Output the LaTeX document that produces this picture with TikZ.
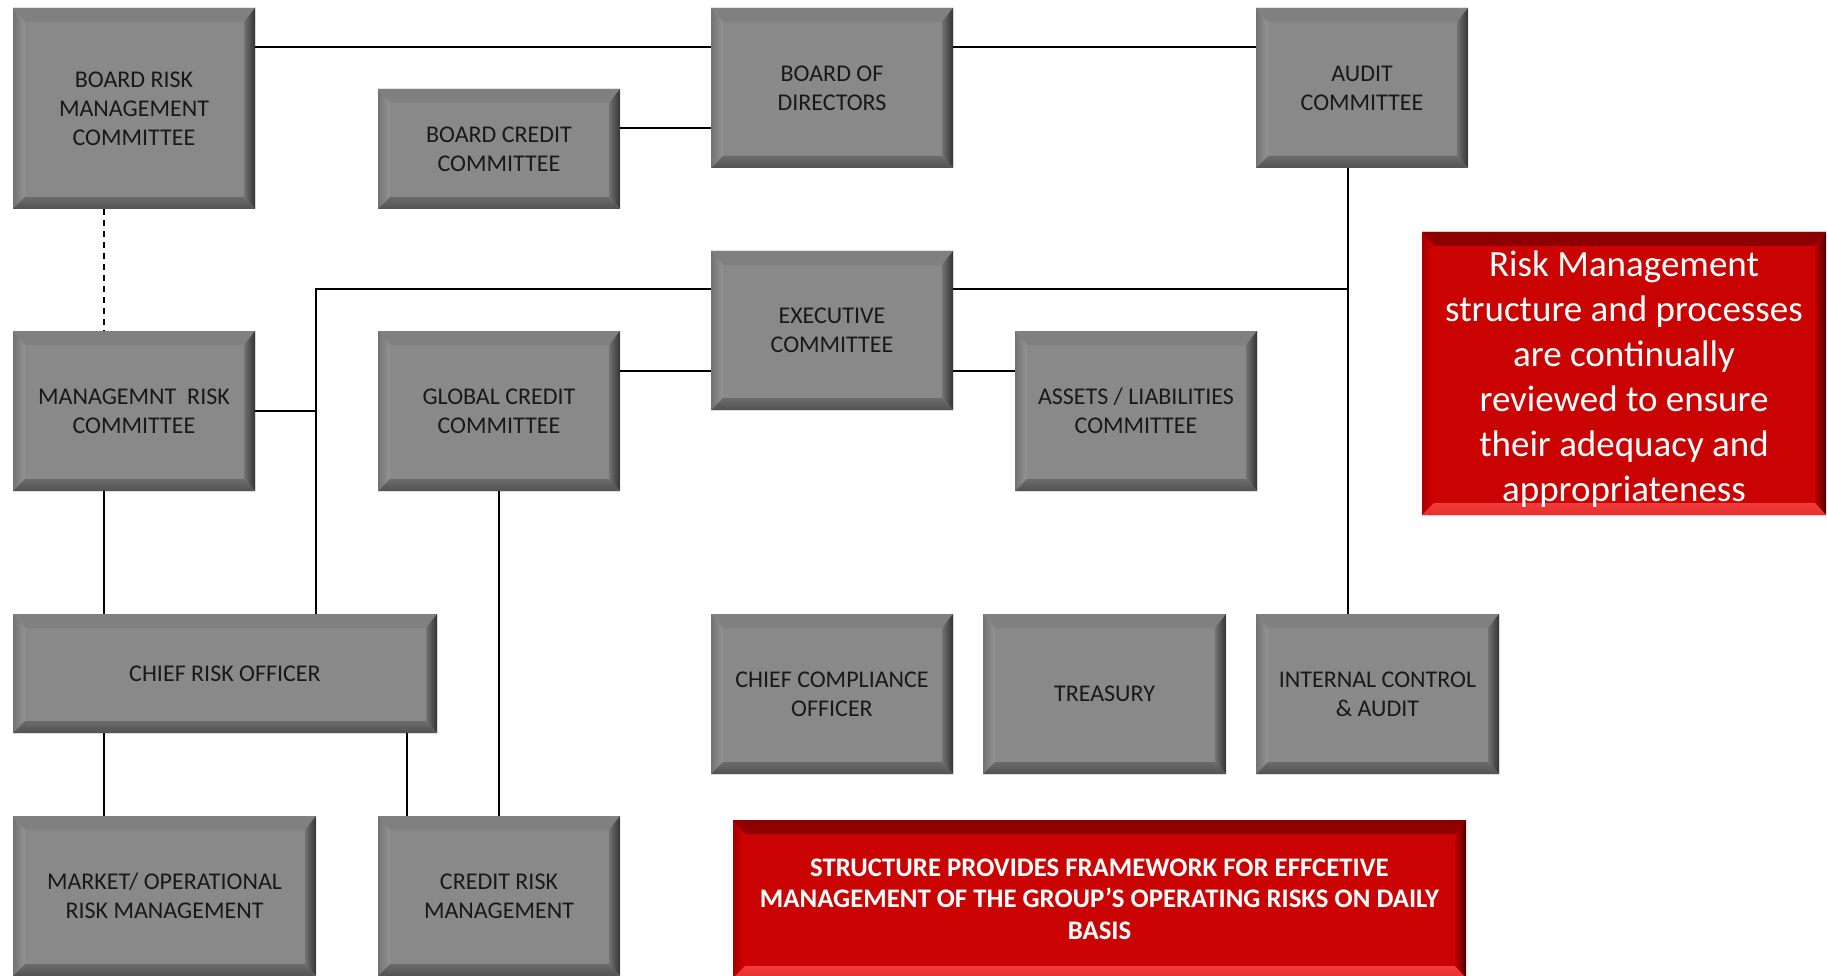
\documentclass[tikz,border=0pt]{standalone}
\usepackage{fontspec}
\setmainfont{Carlito}
\usetikzlibrary{calc}
\definecolor{boxgray}{HTML}{898989}
\definecolor{boxred}{HTML}{CA0303}
\newcommand{\mybevel}[9]{%
 \fill[top color=#1,middle color=#2,bottom color=#3] (path picture bounding box.north west) -- (path picture bounding box.north east) -- ([shift={(-11pt,-14pt)}]path picture bounding box.north east) -- ([shift={(12pt,-14pt)}]path picture bounding box.north west) -- cycle;
 \fill[left color=#4,right color=#5] (path picture bounding box.north west) -- ([shift={(12pt,-14pt)}]path picture bounding box.north west) -- ([shift={(12pt,12pt)}]path picture bounding box.south west) -- (path picture bounding box.south west) -- cycle;
 \fill[left color=#6,right color=#7] (path picture bounding box.north east) -- ([shift={(-11pt,-14pt)}]path picture bounding box.north east) -- ([shift={(-11pt,12pt)}]path picture bounding box.south east) -- (path picture bounding box.south east) -- cycle;
 \fill[top color=#8,bottom color=#9] (path picture bounding box.south west) -- ([shift={(12pt,12pt)}]path picture bounding box.south west) -- ([shift={(-11pt,12pt)}]path picture bounding box.south east) -- (path picture bounding box.south east) -- cycle;
}
\tikzset{
 gbox/.style={rectangle, fill=boxgray, inner sep=0pt, align=center, text=black!90,
   font=\fontsize{24}{29}\selectfont,
   path picture={\mybevel{black!50}{black!25}{black!45}{black!55}{black!42}{black!55}{black!80}{black!58}{black!68}}},
 rbox/.style={rectangle, fill=boxred, inner sep=0pt, align=center, text=white,
   path picture={\mybevel{red!55!black}{red!70!black}{red!80!black}{red!65!black}{red!85!black}{red!75!black}{red!30!black}{red!75!white!95!black}{red!80!white!90!black}}},
 thinln/.style={line width=1.6pt, black},
 thickln/.style={line width=2.7pt, black}
}
\begin{document}
\begin{tikzpicture}[x=1pt,y=-1pt]
\useasboundingbox (0,0) rectangle (1827,976);
\node[gbox, minimum width=242pt, minimum height=201pt] (brm) at (134,108.5) {BOARD RISK\\MANAGEMENT\\COMMITTEE};
\node[gbox, minimum width=242pt, minimum height=120pt] (bcc) at (499,149) {BOARD CREDIT\\COMMITTEE};
\node[gbox, minimum width=242pt, minimum height=160pt] (bod) at (832,88) {BOARD OF\\DIRECTORS};
\node[gbox, minimum width=212pt, minimum height=160pt] (aud) at (1362,88) {AUDIT\\COMMITTEE};
\node[gbox, minimum width=242pt, minimum height=159pt] (exe) at (832,330.5) {EXECUTIVE\\COMMITTEE};
\node[gbox, minimum width=242pt, minimum height=160pt] (mrc) at (134,411) {MANAGEMNT\ \ RISK\\COMMITTEE};
\node[gbox, minimum width=242pt, minimum height=160pt] (gcc) at (499,411) {GLOBAL CREDIT\\COMMITTEE};
\node[gbox, minimum width=242pt, minimum height=160pt] (alco) at (1136,411) {ASSETS / LIABILITIES\\COMMITTEE};
\node[rbox, minimum width=404pt, minimum height=283pt, font=\fontsize{37}{45}\selectfont] (redr) at (1624,373.5) {\rule{0pt}{36pt}Risk Management\\structure and processes\\are continually\\reviewed to ensure\\their adequacy and\\appropriateness};
\node[gbox, minimum width=424pt, minimum height=119pt] (cro) at (225,673.5) {CHIEF RISK OFFICER};
\node[gbox, minimum width=242pt, minimum height=160pt] (cco) at (832,694) {CHIEF COMPLIANCE\\OFFICER};
\node[gbox, minimum width=243pt, minimum height=160pt] (tre) at (1104.5,694) {TREASURY};
\node[gbox, minimum width=243pt, minimum height=160pt] (ica) at (1377.5,694) {INTERNAL CONTROL\\\& AUDIT};
\node[gbox, minimum width=303pt, minimum height=160pt] (morm) at (164.5,896) {MARKET/ OPERATIONAL\\RISK MANAGEMENT};
\node[gbox, minimum width=242pt, minimum height=160pt] (crm) at (499,896) {CREDIT RISK\\MANAGEMENT};
\node[rbox, minimum width=733pt, minimum height=158pt, font=\bfseries\fontsize{26.8}{31.5}\selectfont] (redb) at (1099.5,899) {STRUCTURE PROVIDES FRAMEWORK FOR EFFCETIVE\\MANAGEMENT OF THE GROUP’S OPERATING RISKS ON DAILY\\BASIS};
% junction coordinates
\coordinate (trunk) at ([xshift=91pt]cro.north);
\coordinate (audx) at ([xshift=-14pt]aud.south);
\coordinate (leftx) at ([xshift=-30pt]brm.south);
% connectors
\draw[thinln] ([yshift=-39pt]brm.north east) -- ([yshift=-39pt]bod.north west);
\draw[thinln] ([yshift=-39pt]bod.north east) -- ([yshift=-39pt]aud.north west);
\draw[line width=2.2pt] ([yshift=21pt]bcc.east) -- ([yshift=21pt]bcc.east -| bod.west);
\draw[thinln, dashed, dash pattern=on 6pt off 5pt] (leftx) -- (leftx |- mrc.north);
\draw[thinln] (leftx |- mrc.south) -- (leftx |- cro.north);
\draw[thickln] (leftx |- cro.south) -- (leftx |- morm.north);
\draw[thickln] ([yshift=41.5pt]exe.west) -| (trunk);
\draw[thinln] (mrc.east) -- (mrc.east -| trunk);
\draw[thinln] ([yshift=40pt]gcc.east) -- ([yshift=40pt]gcc.east -| exe.west);
\draw[thinln] ([yshift=-40.5pt]exe.east) -- ([yshift=-40.5pt]exe.east -| alco.west);
\draw[thickln] ([yshift=41.5pt]exe.east) -- ([yshift=41.5pt]exe.east -| audx);
\draw[line width=2pt] (audx) -- (audx |- ica.north);
\draw[thinln] (gcc.south) -- (crm.north);
\draw[line width=2pt] ([xshift=182pt]cro.south) -- ([xshift=182pt]cro.south |- crm.north);
\end{tikzpicture}
\end{document}
